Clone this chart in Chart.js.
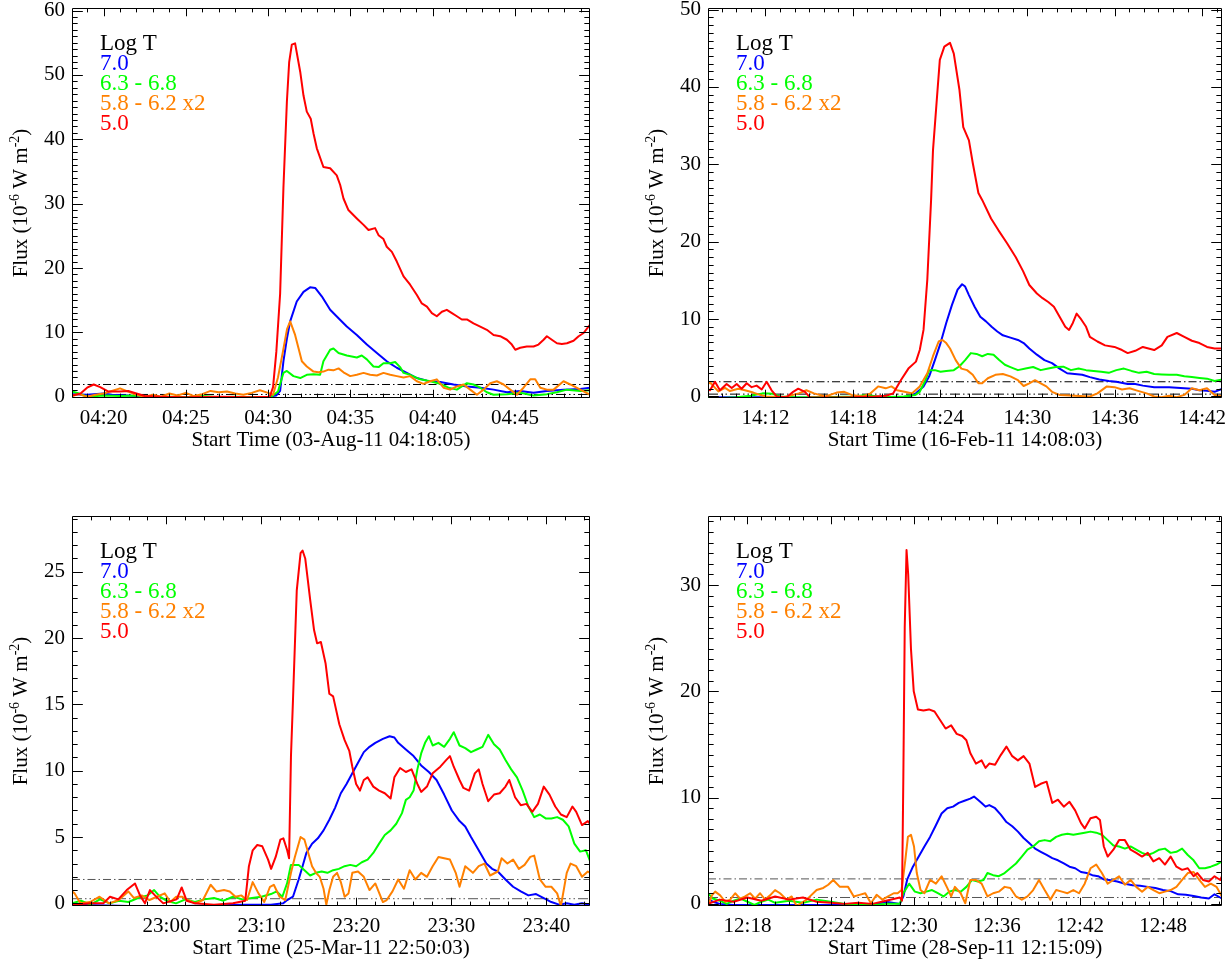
<!DOCTYPE html>
<html>
<head>
<meta charset="utf-8">
<script src="https://cdn.jsdelivr.net/npm/chart.js@4.4.0/dist/chart.umd.min.js"></script>
<style>
  html, body { margin: 0; padding: 0; background: #fff; }
  #wrap { position: relative; width: 1230px; height: 964px; overflow: hidden; }
  canvas { position: absolute; }
</style>
</head>
<body>
<div id="wrap">
  <canvas id="c1" width="615" height="482" style="left:0;top:0"></canvas>
  <canvas id="c2" width="615" height="482" style="left:615px;top:0"></canvas>
  <canvas id="c3" width="615" height="482" style="left:0;top:482px"></canvas>
  <canvas id="c4" width="615" height="482" style="left:615px;top:482px"></canvas>
</div>
<script>
// times are minutes of the day (UT), flux in 1e-6 W m^-2

// --- 03-Aug-11 ---
const p1Title = 'Start Time (03-Aug-11 04:18:05)';
const p1XRange = [258.083, 289.56];
const p1YRange = [-0.2, 60.4];
const p1XTicks = [260, 265, 270, 275, 280, 285];
const p1YTicks = [0, 10, 20, 30, 40, 50, 60];
const p1Levels = [1.9, 0.35];
const p1Blue = [[258.1,0.4],[259,0.3],[260,0.5],[260.5,0.3],[261.5,0.2],[262.5,0.0],[264,-0.1],[266,-0.1],[268,-0.1],[270,0.0],[270.5,0.2],[270.73,0.9],[270.93,5.5],[271.14,9.0],[271.34,11.7],[271.74,14.8],[272.15,16.3],[272.55,17.0],[272.86,16.9],[273.26,15.6],[273.77,13.5],[274.28,12.2],[274.78,10.9],[275.39,9.6],[276.0,8.1],[276.61,6.8],[277.21,5.5],[277.82,4.5],[278.43,3.7],[279.04,2.9],[279.65,2.5],[280.46,2.3],[281.27,1.9],[282.08,1.6],[282.89,1.4],[283.7,1.1],[284.51,0.7],[285.32,0.9],[286.13,0.6],[286.94,0.9],[287.95,1.1],[288.97,1.2],[289.57,1.4]];
const p1Green = [[258.1,0.8],[258.5,0.5],[259,0.0],[260,0.2],[261,0.1],[262,0.2],[263,-0.1],[264,0.0],[265,-0.1],[266,0.1],[267,-0.1],[268,0.0],[269,-0.1],[270.2,0.0],[270.6,0.8],[270.93,3.7],[271.14,4.0],[271.54,3.2],[271.95,2.9],[272.35,3.4],[272.76,3.5],[273.16,3.4],[273.36,5.5],[273.77,7.3],[273.97,7.5],[274.28,6.8],[274.78,6.4],[275.39,6.1],[275.69,6.4],[276.0,5.8],[276.4,4.7],[276.71,4.6],[277.01,5.2],[277.42,5.2],[277.72,5.4],[278.02,4.6],[278.23,3.7],[278.63,3.4],[279.24,2.7],[279.85,2.4],[280.46,2.0],[280.96,1.4],[281.47,1.1],[281.77,1.6],[282.08,2.1],[282.48,1.9],[282.89,1.4],[283.29,0.7],[283.7,0.3],[284.51,0.4],[285.32,0.6],[286.13,0.2],[286.94,0.4],[287.55,0.7],[288.16,1.1],[288.97,0.9],[289.57,1.0]];
const p1Orange = [[258.1,0.1],[258.5,0.4],[259,0.0],[259.5,0.3],[260,0.5],[260.5,0.9],[261,1.3],[261.5,0.8],[262,0.3],[262.5,0.0],[263,0.3],[263.5,0.0],[264,0.5],[264.5,0.2],[265,0.6],[265.5,0.1],[266,0.4],[266.5,0.9],[267,0.7],[267.5,0.8],[268,0.5],[268.5,0.3],[269,0.6],[269.5,1.0],[270,0.6],[270.3,0.3],[270.6,3.0],[270.9,7.0],[271.15,10.5],[271.34,11.7],[271.64,9.6],[271.84,7.6],[272.05,5.5],[272.35,4.7],[272.76,3.9],[273.06,3.8],[273.36,3.9],[273.67,4.2],[273.97,4.1],[274.28,4.4],[274.58,3.8],[274.99,3.2],[275.39,3.4],[275.8,3.7],[276.2,3.4],[276.61,3.3],[277.01,3.7],[277.42,3.4],[277.82,3.2],[278.23,3.0],[278.63,3.2],[279.04,2.4],[279.44,2.0],[279.85,2.4],[280.25,2.7],[280.66,1.4],[281.06,1.1],[281.47,1.6],[281.87,1.9],[282.28,1.1],[282.69,0.3],[283.09,1.1],[283.5,2.1],[283.9,2.4],[284.31,1.9],[284.71,1.1],[285.12,0.3],[285.52,1.4],[285.93,2.7],[286.23,2.7],[286.54,1.4],[286.94,1.1],[287.35,1.1],[287.95,2.4],[288.36,1.9],[288.97,1.1],[289.57,0.3]];
const p1Red = [[258.1,0.2],[258.6,0.5],[259.0,1.4],[259.4,1.9],[259.8,1.5],[260.3,0.8],[261.0,0.8],[261.5,0.9],[262.0,0.5],[262.5,0.1],[263.5,0.0],[265,-0.1],[267,0.0],[269,-0.1],[270.1,0.0],[270.3,1.5],[270.5,7],[270.73,16],[270.93,32.4],[271.14,45.8],[271.28,52],[271.44,54.7],[271.64,54.9],[271.95,50.5],[272.15,46.8],[272.35,44.3],[272.59,43.2],[272.76,40.9],[272.96,38.6],[273.36,35.7],[273.77,35.5],[274.17,34.4],[274.38,32.9],[274.58,30.8],[274.88,29.0],[275.39,27.7],[275.8,26.7],[276.1,25.9],[276.5,26.2],[276.71,25.1],[277.01,24.5],[277.21,23.3],[277.52,22.5],[277.82,21.0],[278.23,18.7],[278.63,17.4],[279.04,15.8],[279.34,14.5],[279.65,14.0],[279.95,13.0],[280.25,12.5],[280.56,13.2],[280.86,13.5],[281.17,13.0],[281.47,12.5],[281.77,12.0],[282.08,12.0],[282.48,11.4],[282.89,10.9],[283.29,10.4],[283.7,9.6],[284.1,9.4],[284.51,8.85],[284.81,8.1],[285.02,7.3],[285.32,7.6],[285.72,7.8],[286.13,7.8],[286.43,8.1],[286.74,8.85],[286.94,9.4],[287.24,8.85],[287.55,8.3],[287.85,8.2],[288.16,8.3],[288.56,8.7],[288.87,9.4],[289.17,9.9],[289.47,10.9],[289.57,11.2]];

// --- 16-Feb-11 ---
const p2Title = 'Start Time (16-Feb-11 14:08:03)';
const p2XRange = [848.05, 883.37];
const p2YRange = [-0.2, 50.2];
const p2XTicks = [852, 858, 864, 870, 876, 882];
const p2YTicks = [0, 10, 20, 30, 40, 50];
const p2Levels = [1.9, 0.3];
const p2Blue = [[848.05,-0.1],[852,-0.1],[856,-0.2],[860,-0.2],[861.8,-0.1],[862.34,0.4],[862.86,1.3],[863.25,2.6],[863.64,4.7],[864.03,6.9],[864.42,9.5],[864.81,11.8],[865.2,13.8],[865.51,14.5],[865.72,14.2],[865.98,13.1],[866.37,11.6],[866.76,10.3],[867.15,9.7],[867.54,9.0],[867.93,8.4],[868.31,7.9],[868.83,7.6],[869.35,7.3],[869.74,6.9],[870.13,6.2],[870.65,5.4],[871.17,4.7],[871.69,4.3],[872.21,3.6],[872.73,3.0],[873.25,2.9],[873.77,2.8],[874.29,2.5],[874.94,2.2],[875.59,2.0],[876.11,1.9],[876.89,1.6],[877.41,1.6],[877.93,1.4],[878.71,1.2],[879.74,1.2],[880.52,1.1],[881.3,1.0],[881.82,0.8],[882.34,0.75],[882.86,0.6],[883.4,1.0]];
const p2Green = [[848.05,-0.2],[849,-0.2],[850,-0.1],[851,0.1],[851.8,0.4],[852.5,0.35],[853,0.0],[854,-0.1],[856,-0.1],[858,0.0],[859,0.2],[860,-0.1],[861.5,0.0],[862.3,0.2],[862.6,0.6],[862.99,2.1],[863.25,3.4],[863.64,3.4],[864.03,3.2],[864.42,3.3],[864.94,3.4],[865.33,3.9],[865.72,4.7],[866.11,5.6],[866.5,5.5],[866.89,5.2],[867.28,5.5],[867.67,5.4],[868.06,4.7],[868.45,4.1],[868.83,3.8],[869.35,3.4],[869.87,3.6],[870.39,3.8],[870.91,3.4],[871.43,3.6],[871.95,3.8],[872.47,3.85],[872.99,3.4],[873.51,3.6],[874.03,3.4],[874.55,3.3],[875.07,3.2],[875.59,3.05],[876.11,3.4],[876.63,3.6],[877.15,3.3],[877.67,3.05],[878.19,3.2],[878.71,2.9],[879.23,2.85],[879.74,2.8],[880.26,2.8],[880.78,2.6],[881.3,2.5],[881.82,2.4],[882.34,2.3],[882.86,2.0],[883.4,2.2]];
const p2Orange = [[848.05,1.6],[848.19,1.8],[848.76,0.65],[849.22,1.1],[849.56,0.7],[850.13,1.0],[850.59,0.8],[851.16,0.5],[851.62,0.2],[852.08,0.0],[853.25,-0.1],[854.29,0.4],[854.81,0.8],[855.33,0.4],[856.11,0.0],[856.89,0.5],[857.41,0.6],[857.93,0.2],[858.7,0.0],[859.22,0.4],[859.74,1.3],[860.26,1.05],[860.65,1.3],[861.04,0.8],[861.56,0.6],[862.08,0.4],[862.6,1.3],[863.12,3.0],[863.51,5.2],[863.9,7.1],[864.16,7.3],[864.42,6.9],[864.68,6.2],[865.07,4.7],[865.46,3.6],[865.85,3.4],[866.24,2.8],[866.63,1.7],[866.89,1.7],[867.28,2.35],[867.8,2.8],[868.31,2.9],[868.83,2.6],[869.35,2.1],[869.74,1.35],[870.13,1.7],[870.52,2.1],[870.91,1.7],[871.3,1.3],[871.69,0.6],[872.21,0.2],[873.25,0.1],[874.29,0.0],[874.81,0.4],[875.46,1.3],[875.98,1.2],[876.5,0.9],[877.02,1.05],[877.54,0.75],[878.19,0.4],[878.71,0.0],[879.23,-0.1],[879.74,0.1],[880.26,-0.1],[880.78,0.2],[881.3,1.05],[881.82,0.8],[882.34,1.05],[882.86,0.2],[883.4,0.0]];
const p2Red = [[848.05,0.9],[848.19,0.8],[848.53,1.9],[848.87,0.8],[849.33,1.6],[849.68,1.1],[850.02,1.6],[850.36,1.0],[850.71,1.7],[851.05,1.2],[851.39,1.4],[851.74,0.9],[852.08,1.9],[852.42,0.8],[852.77,0.0],[853.45,-0.1],[853.9,0.6],[854.25,1.0],[854.71,0.6],[855.05,-0.1],[856.5,-0.15],[858,-0.1],[859.5,0.0],[860.3,0.1],[860.78,0.4],[861.3,2.1],[861.82,3.6],[862.34,4.5],[862.6,6.0],[862.86,8.6],[863.12,15.1],[863.38,25.4],[863.51,31.8],[863.77,38.3],[863.98,43.5],[864.29,45.2],[864.68,45.7],[864.94,44.3],[865.33,39.6],[865.59,34.8],[865.98,33.1],[866.24,30.2],[866.63,26.3],[866.89,25.4],[867.5,23.0],[868.0,21.5],[868.6,19.8],[869.2,18.0],[869.7,16.2],[870.13,14.4],[870.65,13.3],[871.04,12.7],[871.43,12.2],[871.82,11.6],[872.21,10.3],[872.6,9.0],[872.86,8.6],[873.12,9.5],[873.38,10.7],[873.64,10.1],[874.03,9.0],[874.29,7.7],[874.81,7.1],[875.33,6.6],[875.98,6.4],[876.5,6.0],[876.89,5.6],[877.41,5.9],[877.93,6.4],[878.32,6.2],[878.71,6.0],[879.23,6.6],[879.62,7.7],[880.26,8.2],[880.78,7.7],[881.3,7.2],[881.82,6.9],[882.34,6.4],[882.86,6.2],[883.4,6.2]];

// --- 25-Mar-11 ---
const p3Title = 'Start Time (25-Mar-11 22:50:03)';
const p3XRange = [1370.05, 1424.6];
const p3YRange = [-0.2, 29.2];
const p3XTicks = [1380, 1390, 1400, 1410, 1420];
const p3YTicks = [0, 5, 10, 15, 20, 25];
const p3Levels = [1.8, 0.35];
const p3Blue = [[1370.05,-0.1],[1376,-0.2],[1382,-0.2],[1388,-0.1],[1391,-0.1],[1392.3,0.0],[1392.71,0.25],[1393.32,0.5],[1393.92,1.8],[1394.33,2.8],[1394.73,3.8],[1395.33,4.5],[1395.94,4.9],[1396.54,5.5],[1397.15,6.3],[1397.75,7.2],[1398.36,8.3],[1398.96,9.0],[1399.57,9.8],[1400.17,10.6],[1400.78,11.4],[1401.38,11.8],[1401.99,12.1],[1402.79,12.4],[1403.5,12.6],[1404.0,12.5],[1404.4,12.1],[1405.21,11.6],[1406.02,11.1],[1406.82,10.4],[1407.63,9.9],[1408.44,9.3],[1409.24,8.2],[1410.05,7.0],[1410.86,6.2],[1411.46,5.8],[1412.07,5.0],[1412.88,4.0],[1413.68,3.0],[1414.29,2.6],[1414.89,2.4],[1415.7,1.8],[1416.5,1.25],[1417.31,0.9],[1418.11,0.6],[1418.92,0.7],[1419.73,0.4],[1420.53,0.1],[1421.34,-0.1],[1422.15,0.0],[1422.95,-0.1],[1423.76,0.0],[1424.6,-0.1]];
const p3Green = [[1370.05,0.0],[1371,0.2],[1372,-0.1],[1373,0.3],[1374,0.0],[1375,0.2],[1376,0.1],[1377,0.4],[1378,0.6],[1378.7,1.0],[1379.3,0.5],[1380,0.2],[1381,0.0],[1382,0.3],[1383,0.1],[1384,0.3],[1385,0.4],[1386,0.2],[1387,0.5],[1388,0.3],[1389,0.4],[1390,0.5],[1391,0.7],[1391.6,0.9],[1392.2,0.5],[1392.7,1.5],[1393.1,2.9],[1393.92,2.9],[1394.53,2.5],[1395.13,2.1],[1395.74,2.3],[1396.34,2.4],[1396.95,2.3],[1397.55,2.5],[1398.15,2.6],[1398.76,2.8],[1399.36,2.9],[1399.97,2.8],[1400.57,3.1],[1401.18,3.3],[1401.78,3.8],[1402.39,4.5],[1402.99,5.15],[1403.6,5.5],[1404.2,6.0],[1404.8,6.8],[1405.21,7.8],[1405.61,8.0],[1406.02,8.5],[1406.42,10.1],[1406.82,11.3],[1407.23,12.1],[1407.63,12.6],[1408.03,11.9],[1408.64,12.1],[1409.24,11.8],[1409.85,12.4],[1410.25,12.9],[1410.86,11.9],[1411.46,11.7],[1412.07,11.4],[1412.67,11.6],[1413.28,11.8],[1413.88,12.7],[1414.49,12.0],[1415.09,11.6],[1415.7,10.8],[1416.3,10.1],[1416.91,9.5],[1417.51,8.5],[1418.11,7.3],[1418.72,6.5],[1419.32,6.7],[1419.93,6.4],[1420.53,6.4],[1421.14,6.5],[1421.74,6.3],[1422.35,5.8],[1422.95,4.5],[1423.56,3.9],[1424.17,4.0],[1424.6,3.2]];
const p3Orange = [[1370.05,0.9],[1370.33,0.75],[1370.94,0.0],[1371.95,0.1],[1372.95,0.5],[1373.96,0.0],[1374.97,0.25],[1375.98,0.9],[1376.58,0.4],[1377.39,0.6],[1378.2,0.25],[1379.0,0.5],[1379.81,0.75],[1380.41,0.1],[1381.02,0.5],[1381.62,0.5],[1382.23,0.25],[1383.03,0.0],[1383.84,0.25],[1384.65,1.4],[1385.25,0.9],[1386.06,1.0],[1386.66,0.9],[1387.27,0.5],[1387.87,0.6],[1388.48,0.25],[1389.08,1.6],[1389.69,0.75],[1390.29,0.1],[1390.9,1.25],[1391.3,1.4],[1391.91,0.5],[1392.51,0.25],[1393.11,2.3],[1393.52,3.5],[1394.12,5.0],[1394.53,4.8],[1394.93,3.8],[1395.33,2.8],[1395.74,2.3],[1396.14,2.0],[1396.54,1.1],[1396.83,-0.1],[1397.15,1.0],[1397.55,2.0],[1397.96,2.3],[1398.36,1.6],[1398.76,0.5],[1399.17,0.75],[1399.57,2.3],[1400.17,2.4],[1400.78,2.0],[1401.38,1.0],[1401.99,1.5],[1402.79,0.1],[1403.19,0.25],[1403.8,0.9],[1404.4,1.8],[1405.01,1.1],[1405.61,2.5],[1406.21,1.8],[1406.82,2.3],[1407.43,2.0],[1408.03,2.8],[1408.64,3.5],[1409.24,3.4],[1409.85,3.3],[1410.46,2.3],[1410.86,1.25],[1411.46,2.8],[1412.27,2.3],[1412.88,2.8],[1413.48,3.0],[1414.08,2.1],[1414.89,2.4],[1415.29,3.4],[1415.9,3.0],[1416.5,3.3],[1417.11,2.6],[1417.71,2.9],[1418.31,3.5],[1418.72,3.6],[1419.32,1.8],[1419.93,1.25],[1420.53,1.25],[1421.14,0.75],[1421.54,-0.2],[1422.15,2.3],[1422.55,3.0],[1423.15,2.8],[1423.76,2.0],[1424.37,2.4],[1424.6,2.3]];
const p3Red = [[1370.05,-0.1],[1372,0.0],[1373.35,0.0],[1374.05,0.5],[1374.92,0.3],[1375.81,1.0],[1376.68,1.5],[1377.21,0.6],[1377.73,0.0],[1378.26,1.0],[1378.79,0.6],[1379.66,0.0],[1381.07,0.3],[1381.6,1.2],[1382.12,0.2],[1383,0.0],[1385,-0.1],[1387,0.0],[1388.3,0.2],[1388.68,2.8],[1389.08,4.0],[1389.56,4.4],[1390.09,4.3],[1390.7,3.3],[1391.02,2.6],[1391.5,3.5],[1391.99,4.8],[1392.31,4.9],[1392.71,4.0],[1392.91,3.4],[1393.11,11.1],[1393.32,15.3],[1393.72,23.6],[1394.12,26.4],[1394.33,26.6],[1394.61,26.0],[1395.13,22.9],[1395.54,20.6],[1395.86,19.6],[1396.26,19.7],[1396.75,18.1],[1397.15,15.8],[1397.55,15.6],[1398.2,13.5],[1398.76,12.3],[1399.25,11.5],[1399.57,10.3],[1399.97,9.0],[1400.37,8.5],[1400.78,9.3],[1401.18,9.5],[1401.78,8.8],[1402.39,8.5],[1402.99,8.3],[1403.6,7.9],[1404.0,9.5],[1404.6,10.2],[1405.21,9.9],[1405.81,10.1],[1406.42,9.0],[1406.82,8.4],[1407.43,8.8],[1408.03,9.8],[1408.84,10.3],[1409.45,10.8],[1409.85,11.1],[1410.25,10.3],[1410.86,9.3],[1411.27,8.7],[1411.87,8.5],[1412.47,9.8],[1412.88,10.1],[1413.28,9.0],[1413.88,7.7],[1414.49,8.2],[1415.09,8.3],[1415.7,8.8],[1416.1,9.3],[1416.71,8.0],[1417.31,7.4],[1417.91,7.5],[1418.52,6.9],[1419.12,7.5],[1419.73,8.8],[1420.33,8.2],[1420.94,7.3],[1421.54,6.7],[1422.15,6.5],[1422.75,7.3],[1423.15,6.9],[1423.76,5.9],[1424.37,6.2],[1424.6,6.0]];

// --- 28-Sep-11 ---
const p4Title = 'Start Time (28-Sep-11 12:15:09)';
const p4XRange = [735.15, 772.25];
const p4YRange = [-0.2, 36.5];
const p4XTicks = [738, 744, 750, 756, 762, 768];
const p4YTicks = [0, 10, 20, 30];
const p4Levels = [2.35, 0.6];
const p4Blue = [[735.15,0.5],[735.5,0.2],[736,0.0],[737,-0.1],[739,-0.1],[741,-0.1],[743,-0.1],[745,-0.1],[747,-0.1],[748,0.2],[749,0.0],[749.25,0.7],[749.53,2.3],[749.94,3.5],[750.36,4.45],[750.77,5.4],[751.18,6.3],[751.6,7.4],[752.01,8.5],[752.42,9.0],[752.84,9.15],[753.25,9.5],[753.66,9.7],[754.08,9.9],[754.35,10.1],[754.63,9.8],[754.9,9.5],[755.18,9.15],[755.45,9.3],[755.87,9.0],[756.28,8.4],[756.69,7.7],[757.11,7.3],[757.52,6.8],[757.93,6.2],[758.35,5.7],[758.76,5.2],[759.17,4.9],[759.59,4.6],[760.0,4.3],[760.41,4.1],[760.83,3.8],[761.24,3.5],[761.65,3.35],[762.07,3.0],[762.48,2.9],[762.89,2.7],[763.31,2.6],[763.72,2.3],[764.13,2.25],[764.69,2.1],[765.24,1.9],[765.79,1.75],[766.34,1.7],[766.89,1.6],[767.44,1.5],[767.99,1.3],[768.54,1.2],[769.09,0.9],[769.64,0.85],[770.2,0.75],[770.75,0.6],[771.3,0.5],[771.71,0.9],[772.12,0.6],[772.25,0.5]];
const p4Green = [[735.15,1.0],[735.5,0.5],[736,0.3],[736.5,0.0],[737,0.3],[737.5,0.5],[738,0.2],[738.5,-0.1],[739,0.2],[739.5,0.4],[740,0.1],[741,0.3],[742,0.1],[743,0.4],[744,0.2],[745,0.0],[746,-0.1],[747,-0.1],[748,0.0],[749,0.0],[749.25,1.0],[749.67,1.9],[750.08,1.15],[750.49,1.0],[750.91,1.15],[751.32,1.3],[751.74,1.0],[752.15,0.7],[752.56,1.15],[752.97,1.3],[753.39,1.15],[753.8,1.6],[754.21,2.25],[754.63,2.1],[755.04,2.25],[755.32,2.9],[755.73,2.7],[756.14,2.6],[756.56,2.9],[756.97,3.35],[757.38,3.8],[757.8,4.45],[758.21,5.1],[758.62,5.4],[759.04,5.9],[759.45,6.0],[759.86,5.9],[760.28,6.3],[760.69,6.5],[761.1,6.6],[761.52,6.5],[761.93,6.6],[762.34,6.7],[762.76,6.8],[763.17,6.7],[763.58,6.5],[764.0,6.0],[764.41,5.5],[764.82,5.4],[765.24,5.2],[765.65,5.4],[766.06,5.1],[766.48,4.8],[766.89,4.6],[767.3,4.8],[767.72,5.1],[768.13,5.2],[768.54,4.8],[768.96,4.9],[769.37,5.2],[769.78,4.6],[770.2,4.1],[770.61,3.35],[771.02,3.35],[771.44,3.5],[771.85,3.7],[772.25,4.0]];
const p4Orange = [[735.15,-0.2],[735.43,0.8],[735.67,1.15],[736.03,0.8],[736.39,0.2],[736.75,0.4],[737.11,1.0],[737.47,0.5],[737.83,0.7],[738.19,1.0],[738.55,0.5],[738.91,1.0],[739.27,0.4],[739.63,0.8],[739.99,1.3],[740.35,1.0],[740.83,0.4],[741.19,0.7],[741.55,-0.2],[742.27,0.4],[742.99,1.3],[743.47,1.5],[743.83,1.8],[744.19,2.25],[744.67,1.6],[745.26,1.6],[745.67,0.7],[746.08,0.85],[746.5,1.0],[746.91,0.06],[747.32,0.85],[747.74,0.4],[748.15,0.7],[748.56,1.0],[748.84,1.0],[749.12,1.3],[749.39,4.1],[749.58,6.3],[749.8,6.5],[750.02,5.4],[750.22,2.9],[750.49,1.3],[750.77,1.0],[751.18,2.25],[751.6,1.9],[752.01,2.6],[752.42,1.5],[752.7,0.7],[752.97,1.6],[753.39,1.0],[753.72,0.06],[754.08,2.25],[754.49,2.25],[754.9,1.9],[755.32,0.7],[755.73,1.0],[756.14,1.15],[756.56,1.6],[756.97,1.5],[757.38,0.7],[757.8,0.4],[758.21,0.7],[758.62,1.3],[759.04,2.25],[759.45,1.3],[759.86,0.4],[760.28,1.3],[760.69,1.15],[761.1,1.0],[761.52,1.3],[761.93,1.0],[762.34,1.9],[762.76,3.35],[763.17,3.7],[763.58,2.9],[764.0,1.9],[764.41,2.25],[764.82,2.6],[765.24,1.8],[765.65,2.25],[766.06,1.6],[766.48,1.15],[766.89,1.6],[767.3,1.3],[767.72,1.0],[768.13,1.15],[768.54,1.3],[768.96,1.6],[769.37,2.25],[769.78,2.9],[770.2,3.0],[770.61,2.25],[771.02,1.6],[771.44,1.9],[771.85,1.6],[772.25,0.7]];
const p4Red = [[735.15,0.0],[736,0.4],[737,0.2],[738,0.6],[739,0.3],[740,0.7],[741,0.4],[742,0.6],[743,0.2],[744,0.1],[745,0.0],[746,0.1],[747,0.0],[748,0.3],[749,0.6],[749.15,0.3],[749.25,12],[749.35,26],[749.48,33.3],[749.6,31],[749.8,24],[750.0,20],[750.3,18.3],[750.7,18.2],[751.1,18.3],[751.5,18.1],[751.9,17.3],[752.3,16.5],[752.7,16.8],[753.1,16.0],[753.5,15.8],[753.8,15.4],[754.08,14.2],[754.49,13.2],[754.9,13.5],[755.18,12.8],[755.45,13.2],[755.87,13.1],[756.28,14.0],[756.69,14.8],[757.11,13.9],[757.52,13.5],[757.93,13.9],[758.35,13.2],[758.76,11.0],[759.17,11.3],[759.59,11.5],[760.0,9.5],[760.41,9.8],[760.83,9.15],[761.24,9.6],[761.65,8.8],[762.07,7.6],[762.34,7.1],[762.76,8.05],[763.17,8.2],[763.44,7.9],[763.72,5.4],[764.0,4.45],[764.41,5.1],[764.82,6.0],[765.24,6.0],[765.65,5.1],[766.06,4.8],[766.48,4.45],[766.89,4.8],[767.3,4.0],[767.72,4.3],[768.13,3.7],[768.54,4.45],[768.96,3.5],[769.37,3.2],[769.78,3.35],[770.2,2.6],[770.47,2.9],[770.88,2.25],[771.3,2.1],[771.71,2.6],[772.12,2.25],[772.25,2.6]];

// legend
const legendHead = 'Log T';
const legendLabels = ['7.0', '6.3 - 6.8', '5.8 - 6.2 x2', '5.0'];
const lineColors = ['#0000ff', '#00ff00', '#ff8000', '#ff0000'];
const yTitleParts = [['Flux (10', 0], ['-6', 1], [' W m', 0], ['-2', 1], [')', 0]];

const FONT = '"Liberation Serif", "Times New Roman", serif';

function hhmm(m) {
  const h = Math.floor(m / 60) % 24;
  const mm = Math.round(m - Math.floor(m / 60) * 60);
  return String(h).padStart(2, '0') + ':' + String(mm).padStart(2, '0');
}

// IDL style frame: box, inward ticks on all four sides, legend and titles
const idlFrame = {
  id: 'idlFrame',
  afterDraw(chart, args, o) {
    const { ctx, chartArea: a } = chart;
    const xs = chart.scales.x, ys = chart.scales.y;
    const L = Math.round(a.left) + 0.5, R = Math.round(a.right) - 0.5;
    const T = Math.round(a.top) + 0.5, B = Math.round(a.bottom) - 0.5;
    const xLen = (B - T) * 0.02, yLen = (R - L) * 0.02;
    ctx.save();
    ctx.strokeStyle = '#000';
    ctx.lineWidth = 1;
    ctx.setLineDash([]);
    ctx.beginPath();
    ctx.rect(L, T, R - L, B - T);
    for (let m = Math.ceil(xs.min / o.xMinor) * o.xMinor; m <= xs.max; m += o.xMinor) {
      const px = Math.round(xs.getPixelForValue(m)) + 0.5;
      const len = o.xTicks.includes(m) ? xLen : xLen / 2;
      ctx.moveTo(px, B); ctx.lineTo(px, B - len);
      ctx.moveTo(px, T); ctx.lineTo(px, T + len);
    }
    for (let v = Math.ceil(ys.min); v <= ys.max; v += 1) {
      const py = Math.round(ys.getPixelForValue(v)) + 0.5;
      const len = o.yTicks.includes(v) ? yLen : yLen / 2;
      ctx.moveTo(L, py); ctx.lineTo(L + len, py);
      ctx.moveTo(R, py); ctx.lineTo(R - len, py);
    }
    ctx.stroke();

    // legend
    ctx.font = '23px ' + FONT;
    ctx.textAlign = 'left';
    ctx.textBaseline = 'alphabetic';
    ctx.fillStyle = '#000';
    ctx.fillText(legendHead, a.left + 28, a.top + 41.5);
    legendLabels.forEach((s, i) => {
      ctx.fillStyle = lineColors[i];
      ctx.fillText(s, a.left + 28, a.top + 41.5 + (i + 1) * 20.2);
    });

    // x title
    ctx.fillStyle = '#000';
    ctx.font = '21px ' + FONT;
    ctx.textAlign = 'center';
    ctx.textBaseline = 'middle';
    ctx.fillText(o.title, (a.left + a.right) / 2, a.bottom + 42);

    // y title with superscripts
    ctx.translate(a.left - 52, (a.top + a.bottom) / 2);
    ctx.rotate(-Math.PI / 2);
    const big = '21px ' + FONT, small = '14px ' + FONT;
    let w = 0;
    yTitleParts.forEach(([s, sup]) => { ctx.font = sup ? small : big; w += ctx.measureText(s).width; });
    let cx = -w / 2;
    ctx.textAlign = 'left';
    ctx.textBaseline = 'alphabetic';
    yTitleParts.forEach(([s, sup]) => {
      ctx.font = sup ? small : big;
      ctx.fillText(s, cx, sup ? -1 : 7);
      cx += ctx.measureText(s).width;
    });
    ctx.restore();
  }
};

function toXY(pairs) {
  return pairs.map(p => ({ x: p[0], y: p[1] }));
}

function makePanel(id, cfg) {
  const levelColor = cfg.bottomRow ? '#555' : '#000';
  const datasets = cfg.series.map((s, i) => ({
    data: toXY(s),
    borderColor: lineColors[i],
    borderWidth: 2,
    order: 3 - i
  }));
  datasets.push({
    data: [{ x: cfg.xRange[0], y: cfg.levels[0] }, { x: cfg.xRange[1], y: cfg.levels[0] }],
    borderColor: levelColor, borderWidth: 1, borderDash: [8, 3, 1.5, 3], order: 10
  });
  datasets.push({
    data: [{ x: cfg.xRange[0], y: cfg.levels[1] }, { x: cfg.xRange[1], y: cfg.levels[1] }],
    borderColor: levelColor, borderWidth: 1, borderDash: [10, 3, 1.5, 3, 1.5, 3], order: 11
  });

  return new Chart(document.getElementById(id), {
    type: 'line',
    data: { datasets },
    options: {
      responsive: false,
      animation: false,
      devicePixelRatio: 1,
      events: [],
      layout: { padding: cfg.padding },
      elements: {
        point: { radius: 0 },
        line: { tension: 0, borderJoinStyle: 'round' }
      },
      plugins: {
        legend: { display: false },
        tooltip: { enabled: false },
        idlFrame: { xTicks: cfg.xTicks, yTicks: cfg.yTicks, xMinor: cfg.xMinor, title: cfg.title }
      },
      scales: {
        x: {
          type: 'linear',
          min: cfg.xRange[0],
          max: cfg.xRange[1],
          grid: { display: false, drawTicks: false },
          border: { display: false },
          afterBuildTicks: s => { s.ticks = cfg.xTicks.map(v => ({ value: v })); },
          afterFit: s => { s.height = 50; s.paddingLeft = 0; s.paddingRight = 0; },
          ticks: {
            autoSkip: false, maxRotation: 0, padding: 8, color: '#000',
            font: { family: FONT, size: 21 },
            callback: v => hhmm(v)
          }
        },
        y: {
          type: 'linear',
          min: cfg.yRange[0],
          max: cfg.yRange[1],
          grid: { display: false, drawTicks: false },
          border: { display: false },
          afterBuildTicks: s => { s.ticks = cfg.yTicks.map(v => ({ value: v })); },
          afterFit: s => { s.width = 72; s.paddingTop = 0; s.paddingBottom = 0; },
          ticks: {
            padding: 7, color: '#000',
            font: { family: FONT, size: 21 },
            callback: v => String(v)
          }
        }
      }
    },
    plugins: [idlFrame]
  });
}

makePanel('c1', { series: [p1Blue, p1Green, p1Orange, p1Red], xRange: p1XRange, yRange: p1YRange,
  xTicks: p1XTicks, yTicks: p1YTicks, xMinor: 1, levels: p1Levels, title: p1Title,
  padding: { left: 0, right: 25, top: 8, bottom: 34 } });
makePanel('c2', { series: [p2Blue, p2Green, p2Orange, p2Red], xRange: p2XRange, yRange: p2YRange,
  xTicks: p2XTicks, yTicks: p2YTicks, xMinor: 1, levels: p2Levels, title: p2Title,
  padding: { left: 21, right: 8, top: 8, bottom: 34 } });
makePanel('c3', { series: [p3Blue, p3Green, p3Orange, p3Red], xRange: p3XRange, yRange: p3YRange,
  xTicks: p3XTicks, yTicks: p3YTicks, xMinor: 2, levels: p3Levels, title: p3Title, bottomRow: true,
  padding: { left: 0, right: 25, top: 34, bottom: 8 } });
makePanel('c4', { series: [p4Blue, p4Green, p4Orange, p4Red], xRange: p4XRange, yRange: p4YRange,
  xTicks: p4XTicks, yTicks: p4YTicks, xMinor: 1, levels: p4Levels, title: p4Title, bottomRow: true,
  padding: { left: 21, right: 8, top: 34, bottom: 8 } });
</script>
</body>
</html>
